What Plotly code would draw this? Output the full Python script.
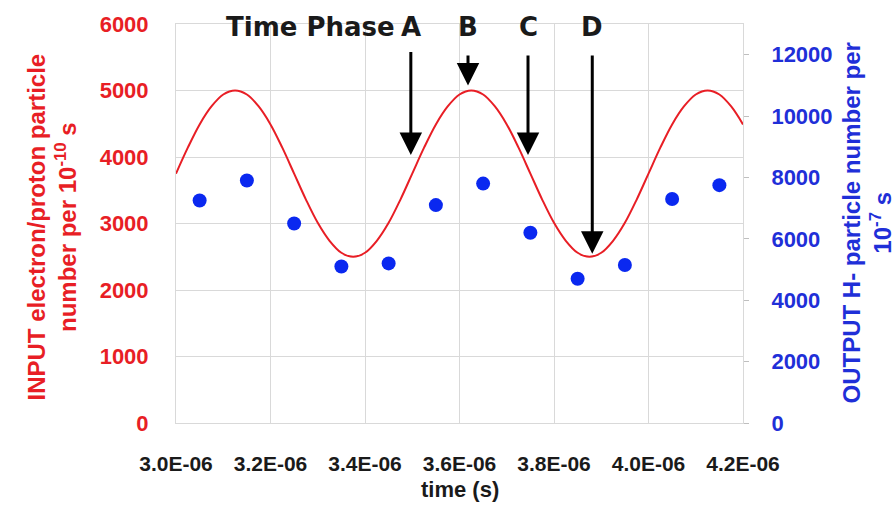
import plotly.graph_objects as go

# ---- data (time in microseconds; tick labels show seconds) ----
time_us = [3.000, 3.025, 3.050, 3.075, 3.100, 3.125, 3.150, 3.175, 3.200, 3.225,
           3.250, 3.275, 3.300, 3.325, 3.350, 3.375, 3.400, 3.425, 3.450, 3.475,
           3.500, 3.525, 3.550, 3.575, 3.600, 3.625, 3.650, 3.675, 3.700, 3.725,
           3.750, 3.775, 3.800, 3.825, 3.850, 3.875, 3.900, 3.925, 3.950, 3.975,
           4.000, 4.025, 4.050, 4.075, 4.100, 4.125, 4.150, 4.175, 4.200]
input_counts = [3750, 4140, 4490, 4760, 4940, 5000, 4940, 4760, 4490, 4140,
                3750, 3360, 3010, 2740, 2560, 2500, 2560, 2740, 3010, 3360,
                3750, 4140, 4490, 4760, 4940, 5000, 4940, 4760, 4490, 4140,
                3750, 3360, 3010, 2740, 2560, 2500, 2560, 2740, 3010, 3360,
                3750, 4140, 4490, 4760, 4940, 5000, 4940, 4760, 4490]

out_time_us = [3.05, 3.15, 3.25, 3.35, 3.45, 3.55, 3.65, 3.75, 3.85, 3.95, 4.05, 4.15]
output_counts = [7250, 7900, 6500, 5100, 5200, 7100, 7800, 6200, 4700, 5150, 7300, 7750]

x_tick_vals = [3.0, 3.2, 3.4, 3.6, 3.8, 4.0, 4.2]
x_tick_text = ["3.0E-06", "3.2E-06", "3.4E-06", "3.6E-06", "3.8E-06", "4.0E-06", "4.2E-06"]

phase_labels = ["A", "B", "C", "D"]
phase_time_us = [3.497, 3.618, 3.745, 3.881]
arrow_tail = [5600, 5550, 5550, 5550]
arrow_tip = [4030, 5075, 4030, 2545]

RED = "#E81E25"
BLUE = "#0A28F0"
BLUE_TXT = "#1F2FD8"
GRID = "#D9D9D9"
FONT = "Liberation Sans, Arial, sans-serif"
LABEL_FONT = "DejaVu Sans, sans-serif"

fig = go.Figure()
fig.add_trace(go.Scatter(
    x=time_us, y=input_counts, mode="lines",
    line=dict(color=RED, width=2, shape="spline"),
    yaxis="y", showlegend=False, hoverinfo="skip"))
fig.add_trace(go.Scatter(
    x=out_time_us, y=output_counts, mode="markers",
    marker=dict(color=BLUE, size=14),
    yaxis="y2", showlegend=False, hoverinfo="skip"))

for lab, t, tail, tip in zip(phase_labels, phase_time_us, arrow_tail, arrow_tip):
    fig.add_annotation(x=t, y=tip, ax=t, ay=tail, xref="x", yref="y",
                       axref="x", ayref="y", text="", showarrow=True,
                       arrowhead=2, arrowsize=1.5, arrowwidth=3,
                       arrowcolor="black", standoff=0, startstandoff=0)
    fig.add_annotation(x=t, y=0.993, xref="x", yref="paper", text=lab,
                       showarrow=False, xanchor="center", yanchor="middle",
                       font=dict(family=LABEL_FONT, size=26, color="#1A1A1A", weight="bold"))

fig.add_annotation(x=phase_time_us[0], y=0.993, xref="x", yref="paper",
                   text="Time Phase", showarrow=False, xanchor="right",
                   yanchor="middle", xshift=-14,
                   font=dict(family=LABEL_FONT, size=26, color="#1A1A1A", weight="bold"))

# axis titles
fig.add_annotation(x=(52 - 176) / 567, y=0.49, xref="paper", yref="paper",
                   text="INPUT electron/proton particle<br>number per 10<sup>-10</sup> s",
                   textangle=-90, showarrow=False, xanchor="center", yanchor="middle",
                   font=dict(family=FONT, size=24, color=RED, weight="bold"))
fig.add_annotation(x=(866 - 176) / 567, y=0.5, xref="paper", yref="paper",
                   text="OUTPUT H- particle number per<br>10<sup>-7</sup> s",
                   textangle=-90, showarrow=False, xanchor="center", yanchor="middle",
                   font=dict(family=FONT, size=24, color=BLUE_TXT, weight="bold"))
fig.add_annotation(x=0.5, y=(423 - 490) / 403, xref="paper", yref="paper",
                   text="time (s)", showarrow=False, xanchor="center", yanchor="middle",
                   font=dict(family=FONT, size=22, color="#1A1A1A", weight="bold"))

fig.update_layout(
    width=896, height=505,
    margin=dict(l=176, r=153, t=20, b=82),
    paper_bgcolor="white", plot_bgcolor="white",
    font=dict(family=FONT),
    xaxis=dict(range=[3.0, 4.2], tickvals=x_tick_vals, ticktext=x_tick_text,
               showgrid=True, gridcolor=GRID, gridwidth=1,
               showline=True, linecolor=GRID, mirror=True, zeroline=False,
               ticks="", ticklabelstandoff=22,
               tickfont=dict(family=FONT, size=21, color="#1A1A1A", weight="bold")),
    yaxis=dict(range=[0, 6000], dtick=1000, showgrid=True, gridcolor=GRID,
               showline=True, linecolor=GRID, zeroline=False, ticks="",
               ticklabelstandoff=22, tickformat="d",
               tickfont=dict(family=FONT, size=22, color=RED, weight="bold")),
    yaxis2=dict(range=[0, 13000], dtick=2000, overlaying="y", side="right",
                showgrid=False, showline=True, linecolor=GRID, zeroline=False,
                ticks="outside", ticklen=5, tickcolor="#BFBFBF",
                ticklabelstandoff=18, tickformat="d",
                tickfont=dict(family=FONT, size=22, color=BLUE_TXT, weight="bold")),
)

fig.write_html("out.html")
